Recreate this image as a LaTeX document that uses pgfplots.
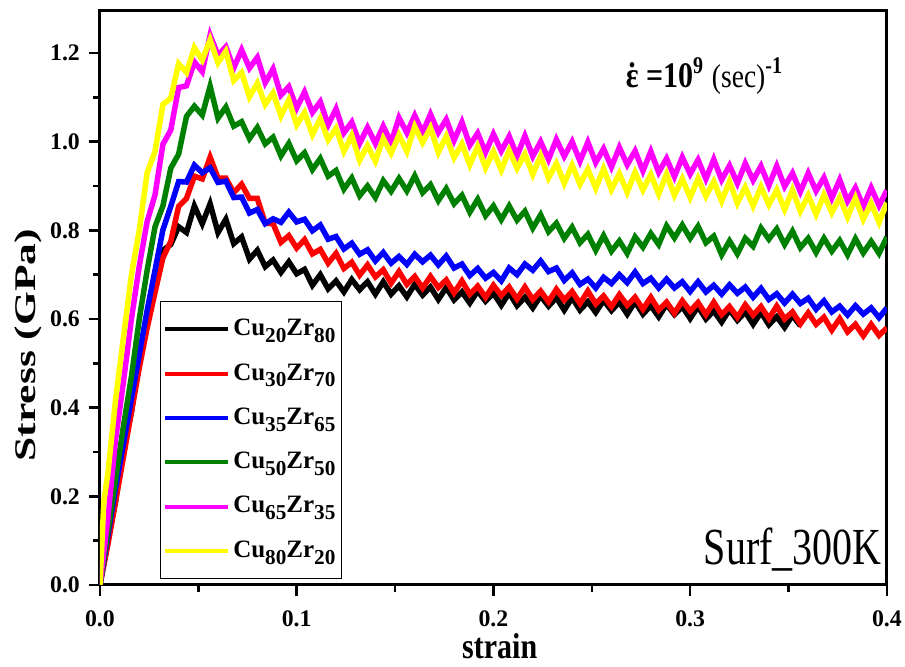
\documentclass[border=0pt]{standalone}
\usepackage{fontspec}
\setmainfont{Liberation Serif}
\usepackage{pgfplots}
\pgfplotsset{compat=1.18}
\definecolor{cRed}{rgb}{1,0,0}
\definecolor{cBlue}{rgb}{0,0,1}
\definecolor{cGreen}{rgb}{0,0.5,0}
\definecolor{cMagenta}{rgb}{1,0,1}
\definecolor{cYellow}{rgb}{1,1,0}
\newcommand{\sub}[1]{\raisebox{-0.6ex}{\fontsize{8.5}{9}\selectfont #1}}
\begin{document}
\begin{tikzpicture}
\begin{axis}[
  scale only axis,
  width=314.8pt, height=230pt,
  xmin=0, xmax=0.4, ymin=0, ymax=1.297,
  xtick={0,0.1,0.2,0.3,0.4},
  ytick={0,0.2,0.4,0.6,0.8,1.0,1.2},
  minor x tick num=1, minor y tick num=1,
  xtick pos=bottom, ytick pos=left,
  tick align=outside,
  major tick length=4.5pt, minor tick length=2.7pt,
  every tick/.style={black, line width=1pt},
  axis line style={line width=1.2pt},
  /pgf/number format/assume math mode=true,
  ticklabel style={font=\bfseries\fontsize{9.5}{11}\selectfont,
    /pgf/number format/fixed, /pgf/number format/fixed zerofill,
    /pgf/number format/precision=1},
  xticklabel style={inner xsep=0pt, yshift=-2.2pt},
  xlabel={\scalebox{1}[1.2]{strain}},
  ylabel={\scalebox{1.45}[1]{Stress (GPa)}},
  every axis x label/.style={at={(axis description cs:0.508,-0.127)}, anchor=base, font=\bfseries\fontsize{12}{14}\selectfont},
  every axis y label/.style={at={(axis description cs:-0.0915,0.417)}, rotate=90, anchor=center, font=\bfseries\fontsize{12}{14}\selectfont},
  legend style={at={(axis description cs:0.076,0.01)}, anchor=south west,
    draw=black, line width=0.6pt, fill=white,
    font=\bfseries\fontsize{10}{12}\selectfont,
    row sep=5.6pt, inner xsep=1pt, inner ysep=5pt,
    nodes={inner xsep=1.5pt}},
  legend cell align=left,
  legend image code/.code={\draw[#1, line width=1.6pt] (0pt,0pt) -- (25pt,0pt);},
  every axis plot/.append style={line width=2.2pt},
]
% Cu20Zr80
\addplot[black] coordinates {
(0,0) (0.004,0.10) (0.008,0.19) (0.012,0.31) (0.016,0.39) (0.020,0.51) (0.024,0.59) (0.028,0.69)
(0.032,0.755) (0.036,0.768) (0.040,0.808) (0.044,0.795) (0.048,0.855) (0.052,0.815) (0.056,0.86) (0.060,0.795)
(0.064,0.825) (0.068,0.77) (0.072,0.785) (0.076,0.735) (0.080,0.755) (0.084,0.718) (0.088,0.733) (0.092,0.705)
(0.096,0.729) (0.100,0.702) (0.104,0.712) (0.108,0.676) (0.112,0.70) (0.116,0.668) (0.120,0.686) (0.124,0.661)
(0.128,0.689) (0.132,0.666) (0.136,0.684) (0.140,0.656) (0.144,0.684) (0.148,0.656) (0.152,0.675) (0.156,0.65)
(0.160,0.678) (0.164,0.654) (0.168,0.672) (0.172,0.644) (0.176,0.671) (0.180,0.643) (0.184,0.661) (0.188,0.636)
(0.192,0.663) (0.196,0.64) (0.200,0.658) (0.204,0.631) (0.208,0.659) (0.212,0.63) (0.216,0.649) (0.220,0.625)
(0.224,0.652) (0.228,0.629) (0.232,0.648) (0.236,0.62) (0.240,0.648) (0.244,0.62) (0.248,0.639) (0.252,0.615)
(0.256,0.642) (0.260,0.619) (0.264,0.638) (0.268,0.611) (0.272,0.639) (0.276,0.611) (0.280,0.63) (0.284,0.605)
(0.288,0.633) (0.292,0.61) (0.296,0.628) (0.300,0.601) (0.304,0.628) (0.308,0.60) (0.312,0.618) (0.316,0.593)
(0.320,0.621) (0.324,0.597) (0.328,0.616) (0.332,0.588) (0.336,0.615) (0.340,0.587) (0.344,0.605) (0.348,0.581)
(0.352,0.608) (0.356,0.585)
};
\addlegendentry{Cu\sub{20}Zr\sub{80}}
% Cu30Zr70
\addplot[cRed] coordinates {
(0,0) (0.004,0.09) (0.008,0.19) (0.012,0.29) (0.016,0.39) (0.020,0.49) (0.024,0.58) (0.028,0.66)
(0.032,0.738) (0.036,0.775) (0.040,0.854) (0.044,0.872) (0.048,0.922) (0.052,0.916) (0.056,0.965) (0.060,0.918)
(0.064,0.918) (0.068,0.885) (0.072,0.904) (0.076,0.872) (0.080,0.872) (0.084,0.816) (0.088,0.815) (0.092,0.773)
(0.096,0.788) (0.100,0.76) (0.104,0.779) (0.108,0.747) (0.112,0.757) (0.116,0.726) (0.120,0.748) (0.124,0.714)
(0.128,0.728) (0.132,0.699) (0.136,0.722) (0.140,0.695) (0.144,0.711) (0.148,0.681) (0.152,0.707) (0.156,0.678)
(0.160,0.696) (0.164,0.67) (0.168,0.696) (0.172,0.671) (0.176,0.688) (0.180,0.659) (0.184,0.686) (0.188,0.656)
(0.192,0.674) (0.196,0.649) (0.200,0.676) (0.204,0.653) (0.208,0.672) (0.212,0.645) (0.216,0.672) (0.220,0.644)
(0.224,0.663) (0.228,0.639) (0.232,0.667) (0.236,0.643) (0.240,0.662) (0.244,0.635) (0.248,0.663) (0.252,0.634)
(0.256,0.652) (0.260,0.628) (0.264,0.655) (0.268,0.631) (0.272,0.649) (0.276,0.622) (0.280,0.649) (0.284,0.62)
(0.288,0.638) (0.292,0.613) (0.296,0.641) (0.300,0.618) (0.304,0.637) (0.308,0.61) (0.312,0.638) (0.316,0.61)
(0.320,0.628) (0.324,0.604) (0.328,0.632) (0.332,0.609) (0.336,0.628) (0.340,0.601) (0.344,0.629) (0.348,0.60)
(0.352,0.616) (0.356,0.589) (0.360,0.614) (0.364,0.588) (0.368,0.604) (0.372,0.575) (0.376,0.601) (0.380,0.571)
(0.384,0.588) (0.388,0.562) (0.392,0.588) (0.396,0.563) (0.400,0.58)
};
\addlegendentry{Cu\sub{30}Zr\sub{70}}
% Cu35Zr65
\addplot[cBlue] coordinates {
(0,0) (0.004,0.11) (0.008,0.22) (0.012,0.32) (0.016,0.42) (0.020,0.52) (0.024,0.62) (0.028,0.71)
(0.032,0.801) (0.036,0.854) (0.040,0.91) (0.044,0.909) (0.048,0.947) (0.052,0.93) (0.056,0.941) (0.060,0.908)
(0.064,0.911) (0.068,0.874) (0.072,0.875) (0.076,0.839) (0.080,0.847) (0.084,0.815) (0.088,0.826) (0.092,0.818)
(0.096,0.841) (0.100,0.819) (0.104,0.825) (0.108,0.799) (0.112,0.812) (0.116,0.78) (0.120,0.786) (0.124,0.758)
(0.128,0.771) (0.132,0.746) (0.136,0.756) (0.140,0.731) (0.144,0.75) (0.148,0.726) (0.152,0.741) (0.156,0.723)
(0.160,0.746) (0.164,0.729) (0.168,0.744) (0.172,0.722) (0.176,0.742) (0.180,0.715) (0.184,0.724) (0.188,0.698)
(0.192,0.714) (0.196,0.692) (0.200,0.705) (0.204,0.686) (0.208,0.715) (0.212,0.70) (0.216,0.724) (0.220,0.71)
(0.224,0.731) (0.228,0.707) (0.232,0.715) (0.236,0.687) (0.240,0.704) (0.244,0.678) (0.248,0.69) (0.252,0.67)
(0.256,0.694) (0.260,0.68) (0.264,0.70) (0.268,0.682) (0.272,0.706) (0.276,0.68) (0.280,0.692) (0.284,0.67)
(0.288,0.69) (0.292,0.67) (0.296,0.684) (0.300,0.662) (0.304,0.684) (0.308,0.661) (0.312,0.676) (0.316,0.656)
(0.320,0.677) (0.324,0.658) (0.328,0.672) (0.332,0.649) (0.336,0.669) (0.340,0.644) (0.344,0.657) (0.348,0.636)
(0.352,0.656) (0.356,0.635) (0.360,0.647) (0.364,0.622) (0.368,0.641) (0.372,0.616) (0.376,0.629) (0.380,0.609)
(0.384,0.63) (0.388,0.611) (0.392,0.625) (0.396,0.603) (0.400,0.625)
};
\addlegendentry{Cu\sub{35}Zr\sub{65}}
% Cu50Zr50
\addplot[cGreen] coordinates {
(0,0) (0.004,0.12) (0.008,0.24) (0.012,0.36) (0.016,0.47) (0.020,0.60) (0.024,0.71) (0.028,0.808)
(0.032,0.855) (0.036,0.94) (0.040,0.972) (0.044,1.057) (0.048,1.08) (0.052,1.06) (0.056,1.125) (0.060,1.053)
(0.064,1.078) (0.068,1.035) (0.072,1.045) (0.076,1.007) (0.080,1.032) (0.084,0.995) (0.088,1.01) (0.092,0.968)
(0.096,0.996) (0.100,0.957) (0.104,0.975) (0.108,0.937) (0.112,0.962) (0.116,0.922) (0.120,0.935) (0.124,0.893)
(0.128,0.918) (0.132,0.878) (0.136,0.90) (0.140,0.874) (0.144,0.912) (0.148,0.888) (0.152,0.917) (0.156,0.889)
(0.160,0.923) (0.164,0.885) (0.168,0.903) (0.172,0.867) (0.176,0.894) (0.180,0.86) (0.184,0.879) (0.188,0.841)
(0.192,0.87) (0.196,0.833) (0.200,0.855) (0.204,0.824) (0.208,0.855) (0.212,0.823) (0.216,0.843) (0.220,0.805)
(0.224,0.835) (0.228,0.797) (0.232,0.816) (0.236,0.782) (0.240,0.807) (0.244,0.772) (0.248,0.791) (0.252,0.755)
(0.256,0.788) (0.260,0.753) (0.264,0.776) (0.268,0.748) (0.272,0.785) (0.276,0.762) (0.280,0.793) (0.284,0.768)
(0.288,0.81) (0.292,0.783) (0.296,0.812) (0.300,0.782) (0.304,0.809) (0.308,0.772) (0.312,0.787) (0.316,0.745)
(0.320,0.776) (0.324,0.747) (0.328,0.782) (0.332,0.764) (0.336,0.805) (0.340,0.78) (0.344,0.803) (0.348,0.768)
(0.352,0.798) (0.356,0.761) (0.360,0.782) (0.364,0.75) (0.368,0.782) (0.372,0.753) (0.376,0.777) (0.380,0.745)
(0.384,0.781) (0.388,0.749) (0.392,0.775) (0.396,0.748) (0.400,0.785)
};
\addlegendentry{Cu\sub{50}Zr\sub{50}}
% Cu65Zr35
\addplot[cMagenta] coordinates {
(0,0) (0.004,0.15) (0.008,0.33) (0.012,0.46) (0.016,0.60) (0.020,0.72) (0.024,0.82) (0.028,0.88)
(0.032,0.994) (0.036,1.026) (0.040,1.122) (0.044,1.126) (0.048,1.18) (0.052,1.158) (0.056,1.24) (0.060,1.195)
(0.064,1.214) (0.068,1.166) (0.072,1.207) (0.076,1.166) (0.080,1.19) (0.084,1.133) (0.088,1.164) (0.092,1.105)
(0.096,1.124) (0.100,1.076) (0.104,1.112) (0.108,1.066) (0.112,1.09) (0.116,1.038) (0.120,1.074) (0.124,1.02)
(0.128,1.044) (0.132,0.996) (0.136,1.032) (0.140,0.996) (0.144,1.035) (0.148,0.998) (0.152,1.054) (0.156,1.02)
(0.160,1.059) (0.164,1.021) (0.168,1.062) (0.172,1.021) (0.176,1.05) (0.180,1.003) (0.184,1.044) (0.188,0.992)
(0.192,1.019) (0.196,0.976) (0.200,1.017) (0.204,0.979) (0.208,1.012) (0.212,0.968) (0.216,1.013) (0.220,0.967)
(0.224,1.0) (0.228,0.96) (0.232,1.005) (0.236,0.967) (0.240,1.0) (0.244,0.956) (0.248,0.999) (0.252,0.953)
(0.256,0.984) (0.260,0.943) (0.264,0.987) (0.268,0.948) (0.272,0.979) (0.276,0.934) (0.280,0.978) (0.284,0.931)
(0.288,0.962) (0.292,0.921) (0.296,0.965) (0.300,0.927) (0.304,0.959) (0.308,0.916) (0.312,0.96) (0.316,0.914)
(0.320,0.946) (0.324,0.906) (0.328,0.951) (0.332,0.913) (0.336,0.945) (0.340,0.901) (0.344,0.945) (0.348,0.899)
(0.352,0.929) (0.356,0.887) (0.360,0.929) (0.364,0.889) (0.368,0.919) (0.372,0.873) (0.376,0.914) (0.380,0.866)
(0.384,0.896) (0.388,0.854) (0.392,0.896) (0.396,0.856) (0.400,0.89)
};
\addlegendentry{Cu\sub{65}Zr\sub{35}}
% Cu80Zr20
\addplot[cYellow] coordinates {
(0,0) (0.002,0.19) (0.004,0.25) (0.008,0.42) (0.012,0.56) (0.016,0.70) (0.020,0.80) (0.024,0.93) (0.028,0.978)
(0.032,1.084) (0.036,1.098) (0.040,1.176) (0.044,1.156) (0.048,1.212) (0.052,1.184) (0.056,1.23) (0.060,1.178)
(0.064,1.204) (0.068,1.138) (0.072,1.156) (0.076,1.101) (0.080,1.132) (0.084,1.084) (0.088,1.11) (0.092,1.058)
(0.096,1.094) (0.100,1.038) (0.104,1.066) (0.108,1.016) (0.112,1.052) (0.116,1.004) (0.120,1.03) (0.124,0.978)
(0.128,1.014) (0.132,0.958) (0.136,0.991) (0.140,0.956) (0.144,1.007) (0.148,0.974) (0.152,1.015) (0.156,0.978)
(0.160,1.034) (0.164,0.998) (0.168,1.031) (0.172,0.976) (0.176,1.012) (0.180,0.964) (0.184,0.995) (0.188,0.948)
(0.192,0.989) (0.196,0.941) (0.200,0.978) (0.204,0.936) (0.208,0.98) (0.212,0.94) (0.216,0.972) (0.220,0.926)
(0.224,0.968) (0.228,0.918) (0.232,0.951) (0.236,0.906) (0.240,0.947) (0.244,0.904) (0.248,0.938) (0.252,0.895)
(0.256,0.939) (0.260,0.892) (0.264,0.928) (0.268,0.886) (0.272,0.931) (0.276,0.891) (0.280,0.926) (0.284,0.882)
(0.288,0.927) (0.292,0.879) (0.296,0.916) (0.300,0.874) (0.304,0.917) (0.308,0.877) (0.312,0.91) (0.316,0.866)
(0.320,0.91) (0.324,0.861) (0.328,0.897) (0.332,0.855) (0.336,0.898) (0.340,0.858) (0.344,0.891) (0.348,0.847)
(0.352,0.891) (0.356,0.843) (0.360,0.879) (0.364,0.836) (0.368,0.88) (0.372,0.84) (0.376,0.874) (0.380,0.83)
(0.384,0.873) (0.388,0.825) (0.392,0.861) (0.396,0.818) (0.400,0.862)
};
\addlegendentry{Cu\sub{80}Zr\sub{20}}
\node[anchor=base west, font=\bfseries\fontsize{12}{14}\selectfont] at (axis description cs:0.657,0.866)
  {\scalebox{1}[1.2]{\accent"02D9 ε =10\textsuperscript{9} {\mdseries\fontsize{11}{12}\selectfont(sec)}\textsuperscript{-1}}};
\node[anchor=base east, inner sep=0pt, font=\fontsize{16}{18}\selectfont] at (axis description cs:0.994,0.035)
  {\scalebox{1}[1.3]{Surf\_300K}};
\coordinate (bl) at (axis description cs:-0.127,-0.132);
\coordinate (tr) at (axis description cs:1.023,1.0174);
\end{axis}
\path (bl) rectangle (tr);
\end{tikzpicture}
\end{document}
